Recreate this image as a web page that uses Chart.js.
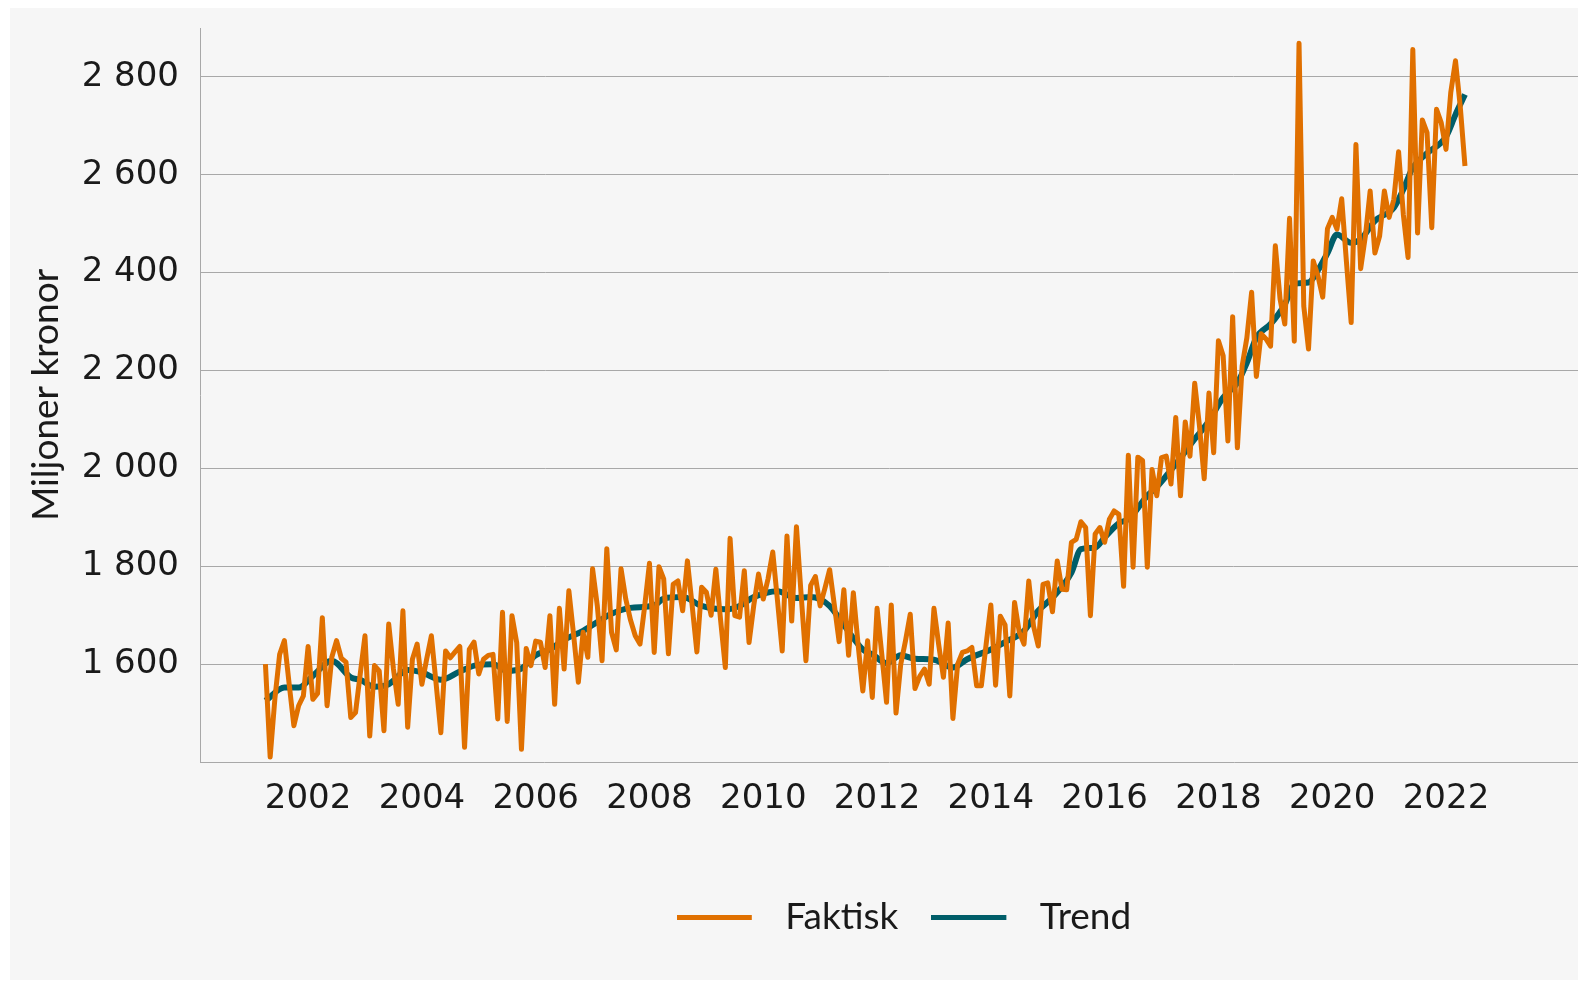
<!DOCTYPE html>
<html>
<head>
<meta charset="utf-8">
<script src="https://cdn.jsdelivr.net/npm/chart.js@4.4.1/dist/chart.umd.min.js"></script>
<style>
    html, body { margin: 0; padding: 0; background: #ffffff; }
    #wrap { position: absolute; left: 10px; top: 8px; width: 1568px; height: 972px; background: #f6f6f6; }
</style>
</head>
<body>
<div id="wrap"><canvas id="chart"></canvas></div>
<script>
// Monthly series, first month is April 2001
const startYear = 2001;
const startMonth = 4;

// Faktisk, million NOK per month
const faktisk = [
    1600, 1410, 1530, 1620, 1648, 1560, 1474, 1515, 1535, 1636, 1528, 1540,
    1695, 1515, 1614, 1648, 1612, 1604, 1491, 1501, 1580, 1658, 1453, 1597,
    1586, 1464, 1682, 1590, 1518, 1709, 1471, 1610, 1641, 1559, 1610, 1658,
    1560, 1460, 1627, 1613, 1625, 1636, 1430, 1630, 1645, 1580, 1610, 1618,
    1620, 1488, 1706, 1483, 1699, 1644, 1426, 1632, 1597, 1647, 1645, 1593,
    1699, 1518, 1714, 1590, 1750, 1660, 1563, 1665, 1614, 1795, 1719, 1607,
    1836, 1665, 1629, 1795, 1733, 1690, 1658, 1641, 1719, 1806, 1624, 1799,
    1774, 1621, 1763, 1770, 1709, 1811, 1720, 1625, 1757, 1747, 1700, 1794,
    1690, 1593, 1857, 1699, 1696, 1791, 1644, 1720, 1784, 1733, 1774, 1829,
    1730, 1627, 1862, 1688, 1881, 1740, 1607, 1761, 1779, 1719, 1755, 1793,
    1720, 1646, 1752, 1618, 1746, 1640, 1545, 1648, 1532, 1714, 1620, 1522,
    1721, 1500, 1600, 1648, 1702, 1550, 1575, 1590, 1559, 1714, 1640, 1573,
    1684, 1489, 1600, 1624, 1627, 1634, 1556, 1556, 1640, 1721, 1557, 1698,
    1680, 1535, 1726, 1665, 1641, 1770, 1678, 1637, 1763, 1766, 1707, 1811,
    1753, 1752, 1849, 1855, 1891, 1879, 1699, 1866, 1879, 1849, 1896, 1913,
    1906, 1759, 2027, 1798, 2023, 2016, 1798, 1998, 1944, 2022, 2025, 1968,
    2104, 1944, 2095, 2025, 2174, 2087, 1979, 2154, 2032, 2261, 2230, 2056,
    2310, 2042, 2209, 2267, 2360, 2188, 2275, 2265, 2250, 2455, 2346, 2295,
    2511, 2260, 2869, 2332, 2244, 2424, 2393, 2350, 2490, 2513, 2489, 2551,
    2422, 2298, 2662, 2408, 2475, 2567, 2440, 2475, 2567, 2513, 2550, 2647,
    2519, 2431, 2856, 2481, 2712, 2686, 2492, 2734, 2706, 2652, 2768, 2833,
    2740, 2618
];

// Trend, read at selected months (months counted from the first month)
const trendMonths = [
    0, 4, 7, 10, 14, 18, 20, 23, 26, 30, 33, 37, 41, 45, 48, 51, 54, 57, 60, 63,
    67, 70, 73, 77, 82, 84, 88, 92, 97, 100, 103, 108, 112, 115, 119, 122, 126, 128, 131, 134,
    137, 141, 145, 148, 153, 156, 160, 163, 166, 170, 172, 175, 177, 180, 182, 186, 188, 192, 196, 199,
    202, 205, 207, 209, 212, 215, 217, 220, 222, 224, 226, 229, 231, 234, 238, 240, 242, 245, 249, 251, 253
];
const trendValues = [
    1525, 1552, 1552, 1576, 1607, 1573, 1568, 1554, 1559, 1588, 1583, 1568, 1585, 1599, 1600, 1586, 1591, 1618, 1630, 1650,
    1668, 1686, 1703, 1715, 1720, 1734, 1737, 1719, 1712, 1719, 1737, 1749, 1735, 1737, 1719, 1680, 1630, 1620, 1602, 1618,
    1611, 1609, 1593, 1610, 1630, 1645, 1668, 1709, 1736, 1787, 1835, 1838, 1859, 1888, 1896, 1944, 1962, 2009, 2060, 2097,
    2145, 2175, 2216, 2267, 2295, 2335, 2377, 2380, 2405, 2440, 2478, 2461, 2468, 2506, 2533, 2570, 2615, 2644, 2678, 2723, 2764
];

const xTicks = [2002, 2004, 2006, 2008, 2010, 2012, 2014, 2016, 2018, 2020, 2022];
const yTicks = [1600, 1800, 2000, 2200, 2400, 2600, 2800];
const yTickLabels = ['1 600', '1 800', '2 000', '2 200', '2 400', '2 600', '2 800'];

const ORANGE = '#e07000';
const TEAL = '#005e69';
const GRID = '#a8a8a8';
const TEXT = '#1a1a1a';

function monthToYear(m) {
    return startYear + (startMonth - 1 + m) / 12;
}

// Legend marker: a short line with some empty room before the text
function legendLine(color) {
    const c = document.createElement('canvas');
    c.width = 90;
    c.height = 5;
    const g = c.getContext('2d');
    g.fillStyle = color;
    g.fillRect(0, 0, 75, 5);
    return c;
}

const LEGEND_DX = 110;
const legendShift = {
    id: 'legendShift',
    afterLayout(chart) {
        chart.legend.left += LEGEND_DX;
        chart.legend.right += LEGEND_DX;
    }
};

const ctx = document.getElementById('chart').getContext('2d');

new Chart(ctx, {
    type: 'line',
    data: {
        datasets: [{
            label: 'Faktisk',
            data: faktisk.map((v, i) => ({ x: monthToYear(i), y: v })),
            borderColor: ORANGE,
            backgroundColor: ORANGE,
            borderWidth: 5,
            borderJoinStyle: 'round',
            pointRadius: 0,
            pointStyle: legendLine(ORANGE),
            tension: 0,
        }, {
            label: 'Trend',
            data: trendMonths.map((m, i) => ({ x: monthToYear(m), y: trendValues[i] })),
            borderColor: TEAL,
            backgroundColor: TEAL,
            borderWidth: 6,
            borderJoinStyle: 'round',
            pointRadius: 0,
            pointStyle: legendLine(TEAL),
            cubicInterpolationMode: 'monotone',
        }]
    },
    options: {
        responsive: true,
        maintainAspectRatio: false,
        animation: false,
        events: [],
        layout: {
            padding: { left: 0, right: 0, top: 20, bottom: 34.5 }
        },
        scales: {
            x: {
                type: 'linear',
                min: 2000.1,
                max: 2024.32,
                afterBuildTicks: scale => { scale.ticks = xTicks.map(v => ({ value: v })); },
                afterFit: scale => {
                    scale.height = 103.5;
                    scale.paddingLeft = 0;
                    scale.paddingRight = 0;
                },
                ticks: {
                    autoSkip: false,
                    maxRotation: 0,
                    padding: 17,
                    color: TEXT,
                    font: { family: 'DejaVu Sans', size: 34 },
                    callback: v => String(v),
                },
                grid: { display: false, drawTicks: false },
                border: { display: true, color: GRID, width: 1 },
            },
            y: {
                min: 1400,
                max: 2900,
                afterBuildTicks: scale => { scale.ticks = yTicks.map(v => ({ value: v })); },
                afterFit: scale => {
                    scale.width = 190;
                    scale.paddingTop = 0;
                    scale.paddingBottom = 0;
                },
                ticks: {
                    padding: 21,
                    color: TEXT,
                    font: { family: 'DejaVu Sans', size: 34 },
                    callback: (v, i) => yTickLabels[i],
                },
                grid: { color: GRID, lineWidth: 1, drawTicks: false },
                border: { display: true, color: GRID, width: 1 },
                title: {
                    display: true,
                    text: 'Miljoner kronor',
                    color: TEXT,
                    font: { family: 'Lato', size: 37 },
                    padding: { top: 14, bottom: 0 },
                },
            }
        },
        plugins: {
            legend: {
                position: 'bottom',
                align: 'center',
                labels: {
                    usePointStyle: true,
                    pointStyleWidth: 90,
                    padding: 33,
                    color: TEXT,
                    font: { family: 'Lato', size: 37 },
                }
            },
            tooltip: { enabled: false },
        }
    },
    plugins: [legendShift]
});
</script>
</body>
</html>
